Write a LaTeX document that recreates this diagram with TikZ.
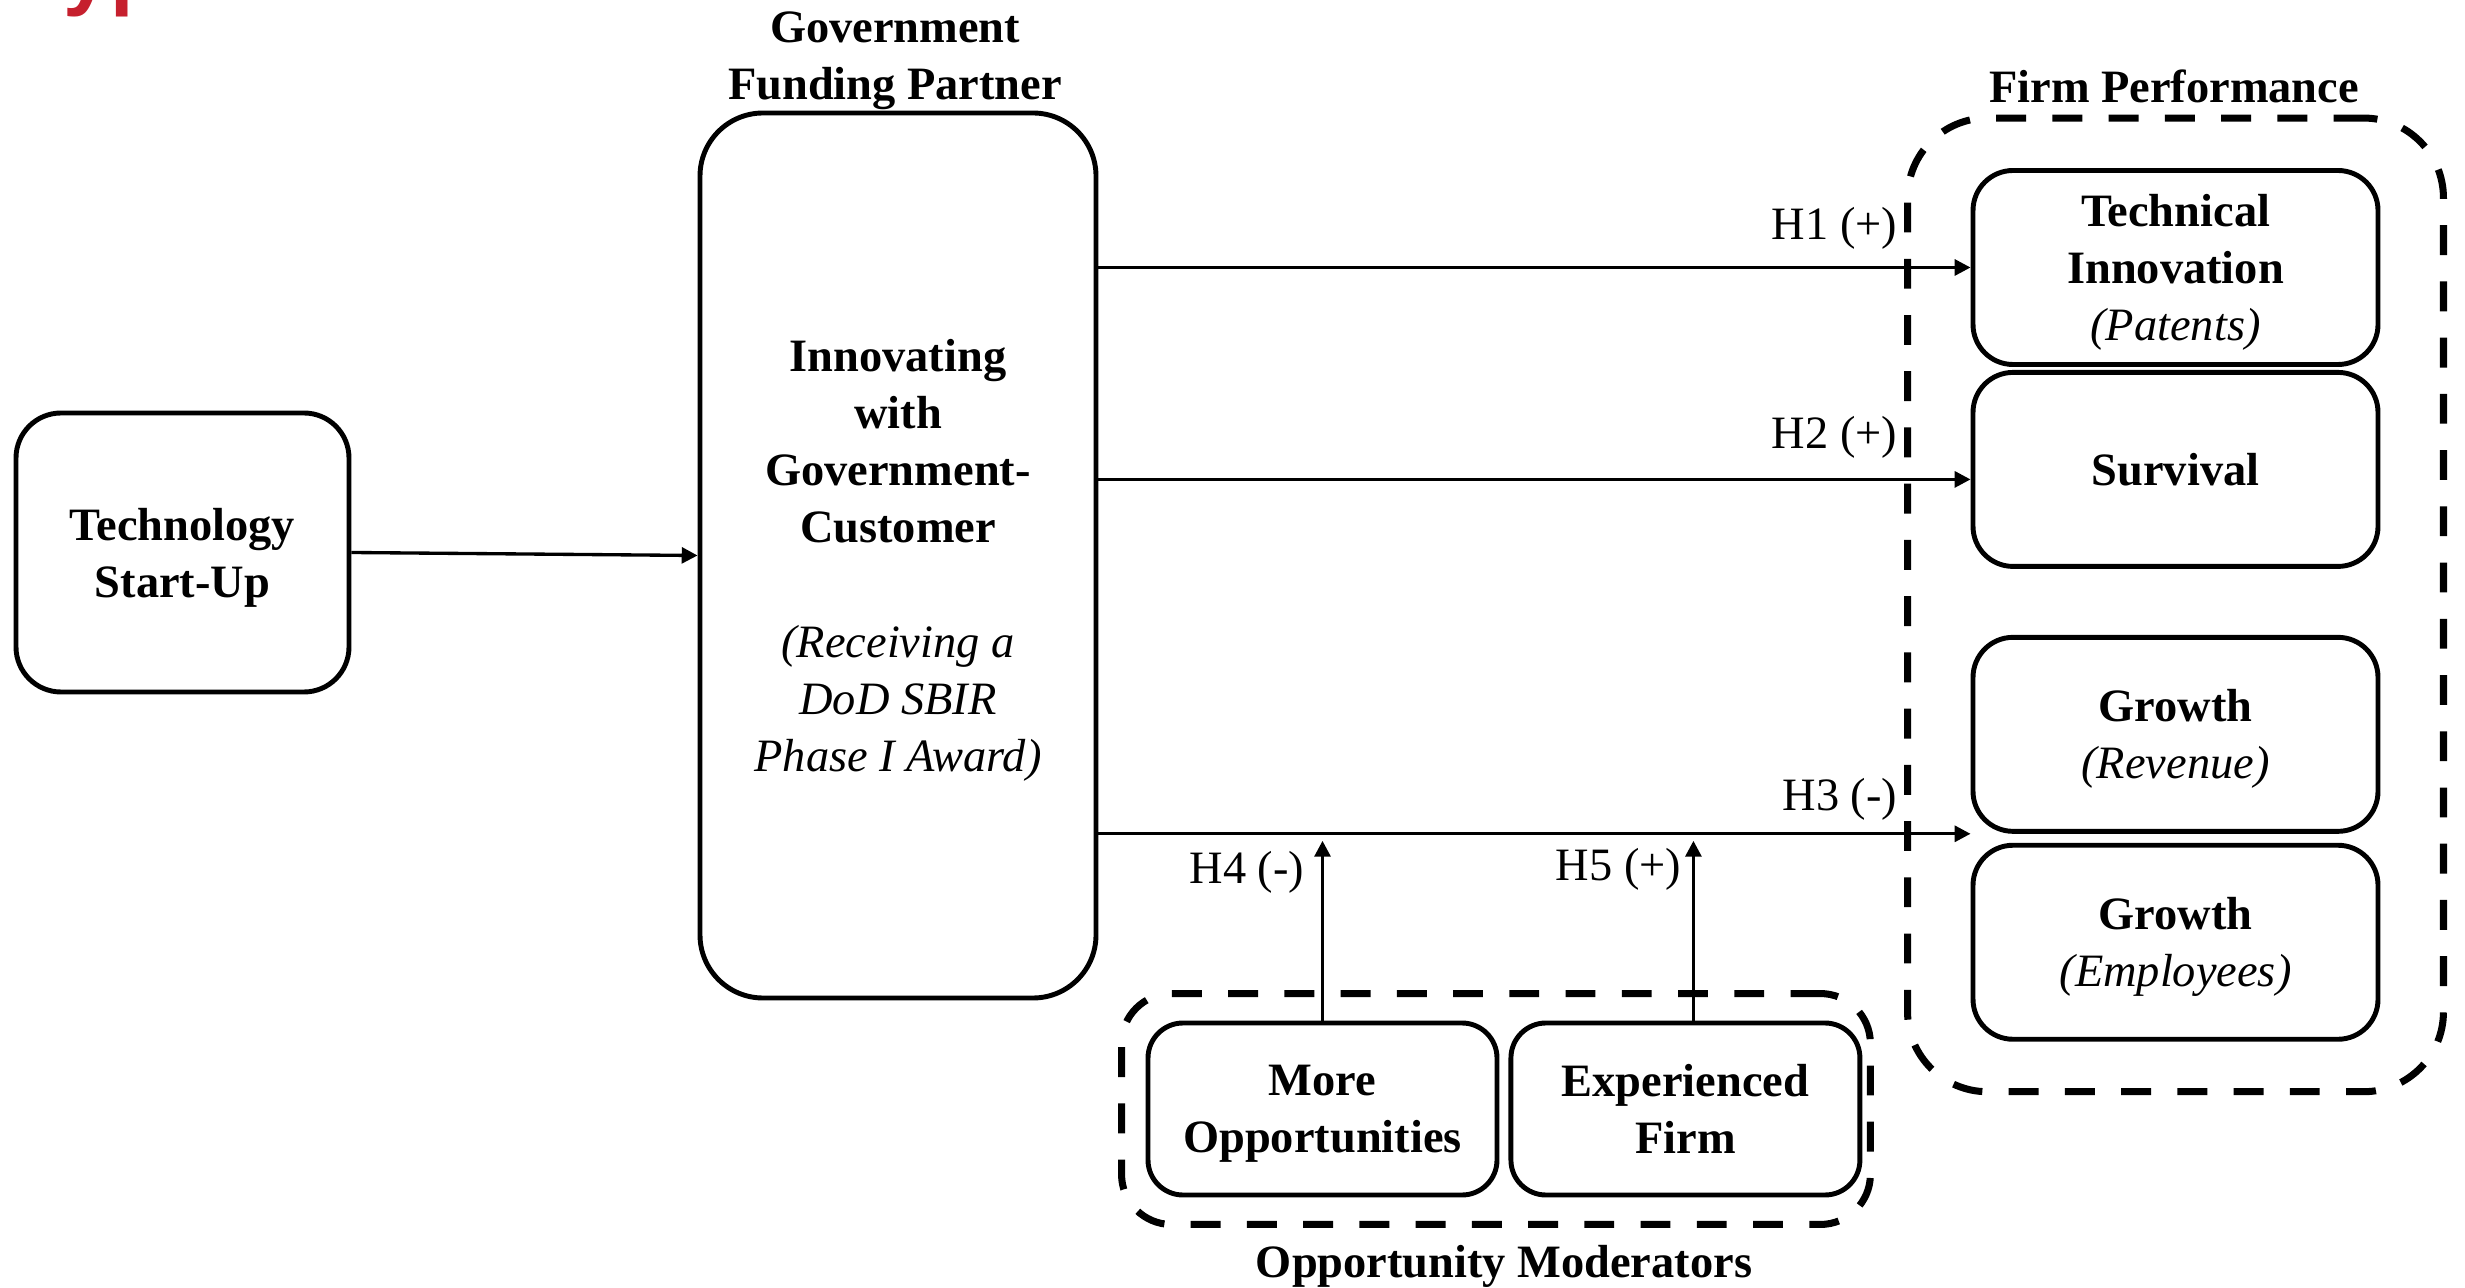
\documentclass[tikz,border=0pt]{standalone}
\usepackage{fontspec}
\setmainfont{Liberation Serif}
\newfontfamily\fragfont{Liberation Sans}
\usetikzlibrary{arrows.meta, positioning, fit}
\definecolor{titlered}{RGB}{198,32,46}
\newcommand\detail[1]{{\mdseries\itshape #1}}

\begin{document}
\begin{tikzpicture}[>={Triangle[length=4.5pt, width=4.5pt]},
    box/.style={draw, line width=1.4pt, rounded corners=0.4cm, align=center, inner sep=0pt, text depth=0pt,
        font=\fontsize{13.2}{16.2}\selectfont\bfseries},
    group/.style={draw, line width=2pt, dash pattern=on 8.5pt off 7.5pt, rounded corners=0.8cm},
    heading/.style={align=center, font=\fontsize{13.2}{16.2}\selectfont\bfseries},
    hyp/.style={font=\fontsize{13.2}{16.2}\selectfont, inner sep=0pt},
    link/.style={->, line width=0.95pt}]

    % Canvas
    \useasboundingbox (0,0) rectangle (24.65,12.87);

    % Cut-off title at the top left
    \begin{scope}
        \clip (0,0) rectangle (24.65,12.87);
        \node[anchor=base west, inner sep=0pt, text=titlered, font=\fragfont\bfseries\fontsize{24}{28}\selectfont] (frag) at (0.63,12.87) {yp};
    \end{scope}

    % Start-up and funding partner
    \node[box, rounded corners=0.45cm, minimum width=3.33cm, minimum height=2.79cm] (startup) at (1.825,7.345) {Technology\\Start-Up};
    \node[box, rounded corners=0.63cm, minimum width=3.96cm, minimum height=8.85cm] (gov) at (8.98,7.315)
        {Innovating\\with\\Government-\\Customer\\[16.5pt]\detail{(Receiving a}\\\detail{DoD SBIR}\\\detail{Phase I Award)}};

    % Firm performance outcomes
    \node[box, minimum width=4.05cm, minimum height=1.94cm] (tech) at (21.755,10.195) {Technical\\Innovation\\\detail{(Patents)}};
    \node[box, minimum width=4.05cm, minimum height=1.94cm, below=0.03cm of tech] (surv) {Survival};
    \node[box, minimum width=4.05cm, minimum height=1.94cm, below=0.66cm of surv] (grev) {Growth\\\detail{(Revenue)}};
    \node[box, minimum width=4.05cm, minimum height=1.94cm, below=0.09cm of grev] (gemp) {Growth\\\detail{(Employees)}};

    % Moderators
    \node[box, rounded corners=0.35cm, minimum width=3.49cm, minimum height=1.72cm] (more) at (13.225,1.78) {More\\Opportunities};
    \node[box, rounded corners=0.35cm, minimum width=3.49cm, minimum height=1.72cm, right=0.09cm of more] (exp) {Experienced\\Firm};

    % Dashed groups
    \coordinate (modleft) at ([xshift=-0.16cm]more.west);
    \node[group, fit=(tech)(gemp), inner xsep=0.63cm, inner ysep=0.5cm] (perf) {};
    \node[group, rounded corners=0.5cm, fit=(modleft)(more)(exp), inner xsep=0.08cm, inner ysep=0.27cm] (moder) {};

    % Headings
    \node[heading] (govtitle) at (8.95,12.26) {Government\\Funding Partner};
    \node[heading] (perftitle) at (21.74,12.01) {Firm Performance};
    \node[heading] (modtitle) at (15.04,0.21) {Opportunity Moderators};

    % Hypothesised effects
    \coordinate (h2end) at ([yshift=-0.1cm]surv.west);
    \coordinate (h3end) at (grev.south west);
    \coordinate (h3low) at ([yshift=-0.07cm]h3end);
    \coordinate (expout) at ([xshift=0.08cm]exp.north);
    \draw[link] (startup.east) -- (gov.west);
    \draw[link] (gov.east |- tech.west) -- (tech.west);
    \draw[link] (gov.east |- h2end) -- (h2end);
    \draw[link] (gov.east |- h3end) -- (h3end);
    \draw[link] (more.north) -- (more.north |- h3low);
    \draw[link] (expout) -- (expout |- h3low);

    % Hypothesis labels
    \node[hyp, anchor=east] (h1) at (18.98,10.59) {H1 (+)};
    \node[hyp, anchor=east] (h2) at (18.98,8.50) {H2 (+)};
    \node[hyp, anchor=east] (h3) at (18.98,4.88) {H3 (-)};
    \node[hyp, anchor=east] (h4) at (13.05,4.15) {H4 (-)};
    \node[hyp, anchor=east] (h5) at (16.82,4.18) {H5 (+)};

\end{tikzpicture}
\end{document}
